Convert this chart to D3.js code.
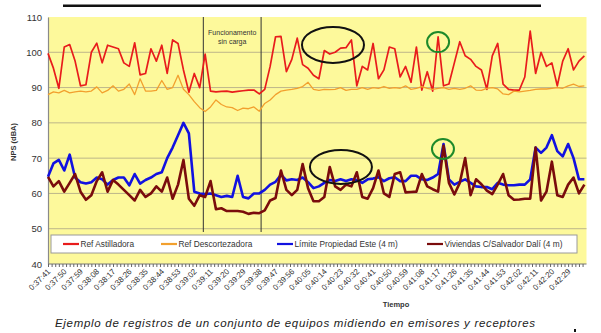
<!DOCTYPE html>
<html><head><meta charset="utf-8">
<script src="https://cdn.jsdelivr.net/npm/d3@7"></script>
<style>body{margin:0;background:#fff}svg{display:block}</style>
</head><body><svg id="c" width="601" height="333"></svg>
<script>
// ---- data ----
const tickLabels = ["0:37:41","0:37:50","0:37:59","0:38:08","0:38:17","0:38:26","0:38:35","0:38:44","0:38:53","0:39:02","0:39:11","0:39:20","0:39:29","0:39:38","0:39:47","0:39:56","0:40:05","0:40:14","0:40:23","0:40:32","0:40:41","0:40:50","0:40:59","0:41:08","0:41:17","0:41:26","0:41:35","0:41:44","0:41:53","0:42:02","0:42:11","0:42:20","0:42:29"];
const tickStepSeconds = 9;
const sampleStepSeconds = 3;
const seriesNames = ["Ref Astilladora","Ref Descortezadora","Límite Propiedad Este (4 m)","Viviendas C/Salvador Dalí (4 m)"];
const refAstilladora = [99.7,95.5,89.8,101.5,102.2,97.5,90.5,90.8,100,102.6,97,102,101.5,101,97,96,102.7,93.6,94,101,97.5,102,94,103.5,102.5,95,88.7,94,90,99.5,89,88.8,88.9,89,88.7,88.9,89.1,89.3,89.3,88.2,89.5,96,104.4,104.5,94.5,98,104,96.5,95.5,93.5,92.5,100.5,99.5,100,101.2,101.3,103.5,90.5,96,95,102.5,92.5,95,101.5,101,93,96,91.5,101.5,89.3,94.5,89,104.4,90.5,91,97,103,99,98,96,95,89.5,99,102.5,91,89.5,89.3,89.3,93,106,94,100,96,97,90.5,97.5,101,95,97.5,99];
const refDescortezadora = [88,88.8,88.5,89.2,88.5,88.8,89,88.8,89,90.2,88.5,89.2,90.5,89,89.5,91,88,92.5,89,89,89.2,92,89.5,90,93.5,89.5,88,86,84.3,83.2,84.5,86.5,85.2,84.5,84.3,83.5,84.2,84,84.5,83.3,85.5,86.5,88,89,89.3,89.5,89.8,90.3,91.5,89.5,89.2,89.5,89.4,89.5,90,89.2,89.5,89.5,90,89.5,90,89.8,90.3,89.8,90,89.8,90.5,89.5,89.8,90.3,89.8,89.5,89.8,90,89.5,89.8,89.5,89.8,90.5,89.3,89.2,89.8,90,89.6,88.2,88,89,88.8,89,89.2,89.5,89.6,89.6,89.8,90,89.8,90.5,91,90.3,90.5];
const limitePropiedad = [64.7,68.5,69.5,66.5,71,64.5,63.2,62.8,63.2,64.5,64,62.5,63.8,64.5,64.5,62.3,65.5,62.8,63.8,64.5,65.5,66,70,73,76.5,80,77,60.5,60,59.8,60,59.5,59,59.3,59,65,59,58.6,60,60,61,62.5,63.3,65.3,63.7,64,63.8,64.5,63.2,61.5,62,63,63.8,63.5,64,63.5,64,63.8,63,64,64.2,64.6,63.5,64.3,64.6,63.5,63.5,65,65,64,63.8,64.5,65.5,74,64,62.5,63.3,64,63,62,61.8,61.8,61.2,63,62.5,62.3,62.3,62.5,62.5,64,73,71.5,73,76.5,72,70.5,74,70,64,64];
const viviendasDali = [64.7,62,63.5,60.5,63,65.5,60.5,58.2,59.5,63.5,66,60.5,63.8,62.5,61,59.5,58,61,59,60,62,60.5,64.5,58.5,62.5,69.5,58.5,56.5,59.5,59,63.5,55.5,55.8,55,55,55,54.8,54.2,54.5,54.4,55.2,58,58.7,66.5,61,59.5,61,68.3,61.5,57.8,57.8,59,67.5,62,61,62.5,62,66,59,58.5,61.5,66.5,60,59,65.5,66,60.3,60.4,60.5,65.5,62,61.2,60.5,73.5,63,59.7,63,70,59.5,64,62.6,60.8,59.8,62.5,65.5,59.5,58.2,58.3,58.5,58.5,73,58,60.5,69,59.5,59,62.5,64.5,60,62.5];
const yTicks = [40,50,60,70,80,90,100,110];
const phaseMarksSeconds = [86, 118];
const phaseLabel = ["Funcionamento","sin carga"];
const highlightEllipses = [ // [seconds, dBA, color]
  [157.8, 102.1, "#111", 31, 18],
  [162.2, 67.5, "#111", 31, 17],
  [216, 102.9, "#1d8a2a", 11, 10],
  [218.7, 72.6, "#1d8a2a", 11, 10]
];
const caption = "Ejemplo de registros de un conjunto de equipos midiendo en emisores y receptores";

// ---- drawing ----
const FONT = "'Liberation Sans', Arial, sans-serif";
const svg = d3.select("#c");
const L = 48, R = 586.5, T = 17, B = 264;
const lastSec = (refAstilladora.length - 1) * sampleStepSeconds;
const x = d3.scaleLinear().domain([0, lastSec]).range([L, L + lastSec * 1.806]);
const y = d3.scaleLinear().domain([40, 110]).range([B, T]);

svg.append("rect").attr("x", 63).attr("y", 4.5).attr("width", 478).attr("height", 2.5).attr("fill", "#111");

svg.append("rect").attr("x", L).attr("y", T).attr("width", R - L).attr("height", B - T).attr("fill", "#fdf99b");

svg.append("g").selectAll("line").data(yTicks.filter(v => v > 40 && v < 110)).join("line")
  .attr("x1", L).attr("x2", R).attr("y1", d => y(d)).attr("y2", d => y(d))
  .attr("stroke", "#bdb68a").attr("stroke-width", 1);

const yAxis = svg.append("g").attr("transform", `translate(${L},0)`)
  .call(d3.axisLeft(y).tickValues(yTicks).tickSize(0).tickPadding(6));
yAxis.select(".domain").attr("stroke", "#8a8a8a").attr("stroke-width", 1.2);
yAxis.selectAll("text").attr("font-family", FONT).attr("font-size", 9.5).attr("fill", "#333");

svg.append("text").attr("transform", "translate(13,142) rotate(-90)")
  .attr("text-anchor", "middle").attr("dy", "0.35em")
  .attr("font-family", FONT).attr("font-size", 7.5).attr("font-weight", "bold").attr("fill", "#333")
  .text("NPS (dBA)");

svg.append("g").selectAll("line").data(phaseMarksSeconds).join("line")
  .attr("x1", d => x(d)).attr("x2", d => x(d)).attr("y1", T).attr("y2", 232)
  .attr("stroke", "#333").attr("stroke-width", 1);
const midPhase = x((phaseMarksSeconds[0] + phaseMarksSeconds[1]) / 2);
svg.append("g").selectAll("text").data(phaseLabel).join("text")
  .attr("x", midPhase).attr("y", (d, i) => 33 + i * 9).attr("dy", "0.35em")
  .attr("text-anchor", "middle").attr("font-family", FONT).attr("font-size", 7).attr("fill", "#333")
  .text(d => d);

const series = [
  {vals: refAstilladora, color: "#e81c1c", w: 1.7},
  {vals: refDescortezadora, color: "#f2a02e", w: 1.3},
  {vals: limitePropiedad, color: "#1212e0", w: 2.6},
  {vals: viviendasDali, color: "#7a0c0c", w: 2.6}
];
const line = d3.line().x((d, i) => x(i * sampleStepSeconds)).y(d => y(d));
svg.append("g").selectAll("path").data(series).join("path")
  .attr("d", s => line(s.vals)).attr("fill", "none")
  .attr("stroke", s => s.color).attr("stroke-width", s => s.w)
  .attr("stroke-linejoin", "round");

svg.append("g").selectAll("ellipse").data(highlightEllipses).join("ellipse")
  .attr("cx", d => x(d[0])).attr("cy", d => y(d[1])).attr("rx", d => d[3]).attr("ry", d => d[4])
  .attr("fill", "none").attr("stroke", d => d[2]).attr("stroke-width", 2);

svg.append("rect").attr("x", 51).attr("y", 235).attr("width", 526).attr("height", 18)
  .attr("fill", "#fff").attr("stroke", "#9a9a9a").attr("stroke-width", 1);
const legX = [63, 161, 277, 427];
const lg = svg.append("g").selectAll("g").data(series).join("g")
  .attr("transform", (d, i) => `translate(${legX[i]},244)`);
lg.append("line").attr("x1", 0).attr("x2", 16).attr("stroke", d => d.color).attr("stroke-width", 2.2);
lg.append("text").attr("x", 17.5).attr("dy", "0.35em").attr("font-family", FONT).attr("font-size", 8.3)
  .attr("fill", "#333").text((d, i) => seriesNames[i]);

const xAxis = svg.append("g").attr("transform", `translate(0,${B})`)
  .call(d3.axisBottom(x).tickValues(d3.range(0, lastSec + 1, 2)).tickSize(3).tickFormat(""));
xAxis.select(".domain").attr("stroke", "#777").attr("d", `M${L},0H${R}`);
xAxis.selectAll(".tick line").attr("stroke", "#666");

svg.append("g").selectAll("text").data(tickLabels).join("text")
  .attr("transform", (d, i) => `translate(${x(i * tickStepSeconds) + 1},${B + 6}) rotate(-45)`)
  .attr("text-anchor", "end").attr("dy", "0.35em")
  .attr("font-family", FONT).attr("font-size", 8).attr("fill", "#333")
  .text(d => d);

svg.append("text").attr("x", 396).attr("y", 304).attr("dy", "0.35em").attr("text-anchor", "middle")
  .attr("font-family", FONT).attr("font-size", 7.5).attr("font-weight", "bold").attr("fill", "#333")
  .text("Tiempo");

svg.append("text").attr("x", 55).attr("y", 327).attr("font-family", FONT).attr("font-size", 11.5)
  .attr("font-style", "italic").attr("fill", "#222").attr("textLength", 480).text(caption);

svg.append("rect").attr("x", 574).attr("y", 329).attr("width", 2).attr("height", 3).attr("fill", "#111");
</script></body></html>
